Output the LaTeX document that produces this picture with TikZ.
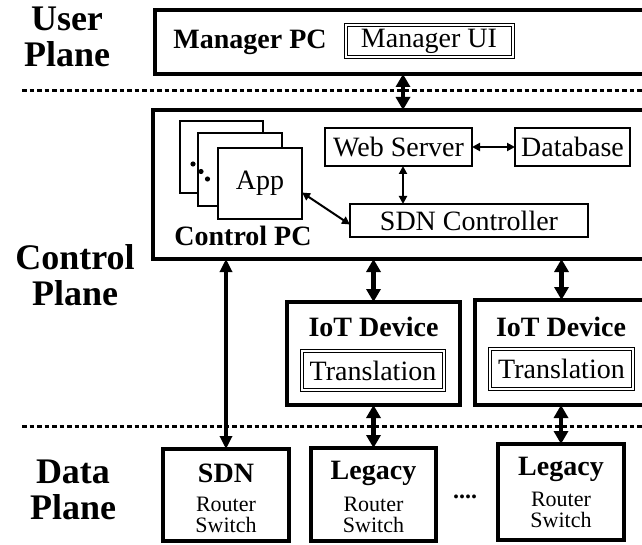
\documentclass[tikz,border=0pt]{standalone}
\usepackage{fontspec}
\setmainfont{Liberation Serif}
\usetikzlibrary{arrows.meta}
\begin{document}
\begin{tikzpicture}[x=1pt,y=-1pt,
  every node/.style={inner sep=0pt, outer sep=0pt},
  heavybox/.style={draw, line width=3.8pt, fill=white},
  lightbox/.style={draw, line width=1.8pt, fill=white},
  framebox/.style={draw, line width=1pt, double, double distance=2pt},
  txt/.style={font=\fontsize{28}{30}\selectfont},
  btxt/.style={font=\fontsize{28}{30}\selectfont\bfseries},
  smalltxt/.style={font=\fontsize{22}{23}\selectfont},
  plane/.style={font=\fontsize{36}{36}\selectfont\bfseries, align=center},
  sep/.style={line width=3pt, dash pattern=on 4.5pt off 3pt},
  bigarrow/.style={line width=4.5pt, {Triangle[length=13pt,width=14pt]}-{Triangle[length=13pt,width=14pt]}},
  midarrow/.style={line width=3.2pt, {Triangle[length=13pt,width=12pt]}-{Triangle[length=13pt,width=12pt]}},
  thinarrow/.style={line width=2pt, {Triangle[length=8pt,width=8pt]}-{Triangle[length=8pt,width=8pt]}}
]
\useasboundingbox (0,0) rectangle (642,545);
\clip (0,0) rectangle (642,545);

% plane labels
\node[plane] (lu) at (67,37) {User\\Plane};
\node[plane] (lc) at (75,275) {Control\\Plane};
\node[plane] (ld) at (73,490) {Data\\Plane};

% plane separators
\draw[sep] (22,91) -- (642,91);
\draw[sep] (22,426) -- (642,426);
\coordinate (ax) at (403,91);

% user plane
\node[heavybox, minimum width=495pt, minimum height=64pt] (mpc) at (402.5,42) {};
\node[btxt] (mpclbl) at (250,42) {Manager PC};
\node[framebox, minimum width=167pt, minimum height=32pt, txt] (mui) at (429,41) {Manager UI};

% control PC
\node[heavybox, minimum width=497pt, minimum height=149pt] (cpc) at (401.5,184.5) {};
\node[lightbox, minimum width=83pt, minimum height=72pt] (app3) at (221.5,157) {};
\node[lightbox, minimum width=84pt, minimum height=73pt] (app2) at (240,169.5) {};
\node[lightbox, minimum width=84pt, minimum height=71pt, txt] (app1) at (260,183.5) {App};
\fill (193,164) circle (2.6pt) (201,171.5) circle (2.6pt) (207.5,179) circle (2.6pt);
\node[btxt] (cpclbl) at (243,236) {Control PC};
\node[lightbox, minimum width=147pt, minimum height=38pt, txt] (web) at (398.5,147) {Web Server};
\node[lightbox, minimum width=115pt, minimum height=38pt, txt] (db) at (572.5,147) {Database};
\node[lightbox, minimum width=238pt, minimum height=33pt, txt] (sdnc) at (469,220.5) {SDN Controller};

% IoT devices
\node[heavybox, minimum width=173pt, minimum height=103pt] (iot1) at (373.5,353.5) {};
\node[btxt] (iot1lbl) at (373.5,327) {IoT Device};
\node[framebox, minimum width=142pt, minimum height=39pt, txt] (tr1) at (373,370.5) {Translation};
\node[heavybox, minimum width=185pt, minimum height=105pt] (iot2) at (567.5,352.5) {};
\node[btxt] (iot2lbl) at (561,327) {IoT Device};
\node[framebox, minimum width=143pt, minimum height=40pt, txt] (tr2) at (561.5,369) {Translation};

% data plane devices
\node[heavybox, minimum width=126pt, minimum height=92pt] (sdn) at (226,495) {};
\node[btxt] (sdnlbl) at (226,473) {SDN};
\node[smalltxt] (sdnr) at (226,504) {Router};
\node[smalltxt] (sdns) at (226,525) {Switch};
\node[heavybox, minimum width=125pt, minimum height=93pt] (leg1) at (373.5,494.5) {};
\node[btxt] (leg1lbl) at (373.5,473) {Legacy};
\node[smalltxt] (leg1r) at (373.5,504) {Router};
\node[smalltxt] (leg1s) at (373.5,525) {Switch};
\node[heavybox, minimum width=126pt, minimum height=96pt] (leg2) at (561,492) {};
\node[btxt] (leg2lbl) at (561,469) {Legacy};
\node[smalltxt] (leg2r) at (561,499) {Router};
\node[smalltxt] (leg2s) at (561,520) {Switch};
\node[font=\fontsize{24}{24}\selectfont\bfseries] (more) at (465,497) {....};

% connectors
\draw[bigarrow] (mpc.south -| ax) -- (cpc.north -| ax);
\draw[thinarrow] (web.east) -- (db.west);
\draw[thinarrow] (web.south -| ax) -- (sdnc.north -| ax);
\draw[thinarrow] ([yshift=-9pt]app1.east) -- ([yshift=-4pt]sdnc.west);
\draw[midarrow] (sdn.north |- cpc.south) -- (sdn.north);
\draw[bigarrow] (iot1.north |- cpc.south) -- (iot1.north);
\draw[bigarrow] (tr2.north |- cpc.south) -- (tr2.north |- iot2.north);
\draw[bigarrow] (iot1.south) -- (iot1.south |- leg1.north);
\draw[bigarrow] (leg2.north |- iot2.south) -- (leg2.north);
\end{tikzpicture}
\end{document}
